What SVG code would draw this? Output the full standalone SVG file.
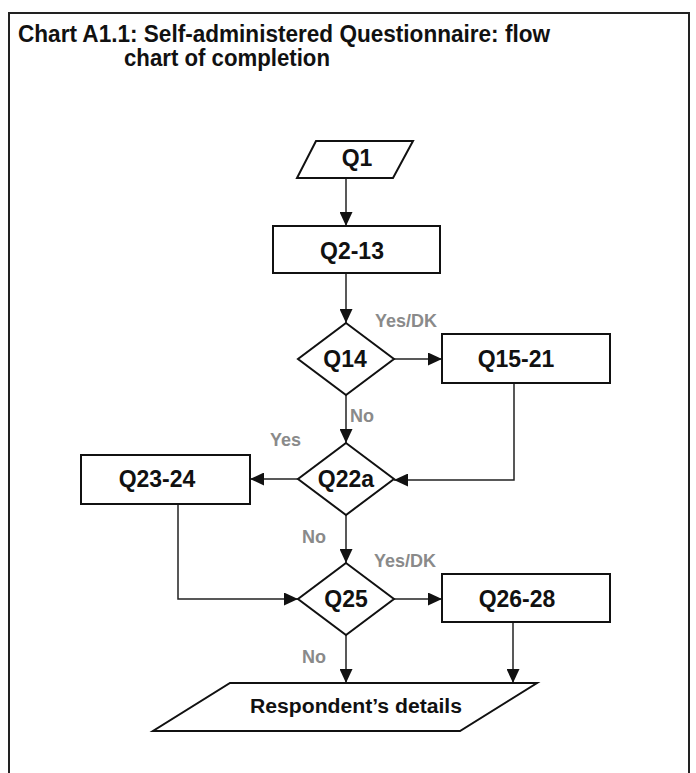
<svg xmlns="http://www.w3.org/2000/svg" width="696" height="773" viewBox="0 0 696 773">
  <style>
    .frame { fill: #fff; stroke: #222; stroke-width: 2; }
    .box { fill: #fff; stroke: #111; stroke-width: 2; }
    .wire { fill: none; stroke: #222; stroke-width: 1.5; }
    .title { font-family: "Liberation Sans Narrow", "Liberation Sans", Arial, sans-serif; font-weight: bold; font-size: 23px; fill: #111; }
    .lbl { font-family: "Liberation Sans", Arial, sans-serif; font-weight: bold; font-size: 23px; fill: #111; text-anchor: middle; }
    .small { font-family: "Liberation Sans", Arial, sans-serif; font-weight: bold; font-size: 20px; fill: #111; text-anchor: middle; }
    .cond { font-family: "Liberation Sans", Arial, sans-serif; font-weight: bold; font-size: 18px; fill: #8a8a8a; }
  </style>
  <defs>
    <marker id="arrow" markerUnits="userSpaceOnUse" markerWidth="14" markerHeight="13" refX="14" refY="6.5" orient="auto">
      <path d="M0,0 L14,6.5 L0,13 z" fill="#111"/>
    </marker>
  </defs>

  <rect width="696" height="773" fill="#fff"/>
  <rect class="frame" x="9" y="13" width="680" height="800"/>

  <g id="title">
    <text class="title" x="18" y="42" textLength="532" lengthAdjust="spacingAndGlyphs">Chart A1.1: Self-administered Questionnaire: flow</text>
    <text class="title" x="124" y="66" textLength="206" lengthAdjust="spacingAndGlyphs">chart of completion</text>
  </g>

  <g id="connectors">
    <path class="wire" d="M346,178 L346,226" marker-end="url(#arrow)"/>
    <path class="wire" d="M346,273 L346,323" marker-end="url(#arrow)"/>
    <path class="wire" d="M394,359 L442,359" marker-end="url(#arrow)"/>
    <path class="wire" d="M346,395 L346,443" marker-end="url(#arrow)"/>
    <path class="wire" d="M514,383 L514,480 L394,480" marker-end="url(#arrow)"/>
    <path class="wire" d="M298,479 L250,479" marker-end="url(#arrow)"/>
    <path class="wire" d="M346,515 L346,563" marker-end="url(#arrow)"/>
    <path class="wire" d="M178,504 L178,599 L298,599" marker-end="url(#arrow)"/>
    <path class="wire" d="M394,599 L442,599" marker-end="url(#arrow)"/>
    <path class="wire" d="M346,635 L346,683" marker-end="url(#arrow)"/>
    <path class="wire" d="M513,622 L513,683" marker-end="url(#arrow)"/>
  </g>

  <g id="conditions">
    <text class="cond" x="375" y="327">Yes/DK</text>
    <text class="cond" x="350" y="422">No</text>
    <text class="cond" x="270" y="446">Yes</text>
    <text class="cond" x="302" y="543">No</text>
    <text class="cond" x="374" y="567">Yes/DK</text>
    <text class="cond" x="302" y="663">No</text>
  </g>

  <g id="q1">
    <polygon class="box" points="316,141 413,141 393,178 297,178"/>
    <text class="lbl" x="357" y="166">Q1</text>
  </g>
  <g id="q2-13">
    <rect class="box" x="273" y="226" width="167" height="47"/>
    <text class="lbl" x="352" y="259">Q2-13</text>
  </g>
  <g id="q14">
    <polygon class="box" points="346,323 394,359 346,395 298,359"/>
    <text class="lbl" x="345" y="367">Q14</text>
  </g>
  <g id="q15-21">
    <rect class="box" x="442" y="334" width="168" height="49"/>
    <text class="lbl" x="516" y="367">Q15-21</text>
  </g>
  <g id="q22a">
    <polygon class="box" points="346,443 394,479 346,515 298,479"/>
    <text class="lbl" x="346" y="487">Q22a</text>
  </g>
  <g id="q23-24">
    <rect class="box" x="81" y="455" width="169" height="49"/>
    <text class="lbl" x="157" y="487">Q23-24</text>
  </g>
  <g id="q25">
    <polygon class="box" points="346,563 394,599 346,635 298,599"/>
    <text class="lbl" x="346" y="607">Q25</text>
  </g>
  <g id="q26-28">
    <rect class="box" x="442" y="574" width="168" height="48"/>
    <text class="lbl" x="517" y="607">Q26-28</text>
  </g>
  <g id="respondent-details">
    <polygon class="box" points="230,683 537,683 460,731 153,731"/>
    <text class="small" x="356" y="713" textLength="212" lengthAdjust="spacingAndGlyphs">Respondent’s details</text>
  </g>
</svg>
